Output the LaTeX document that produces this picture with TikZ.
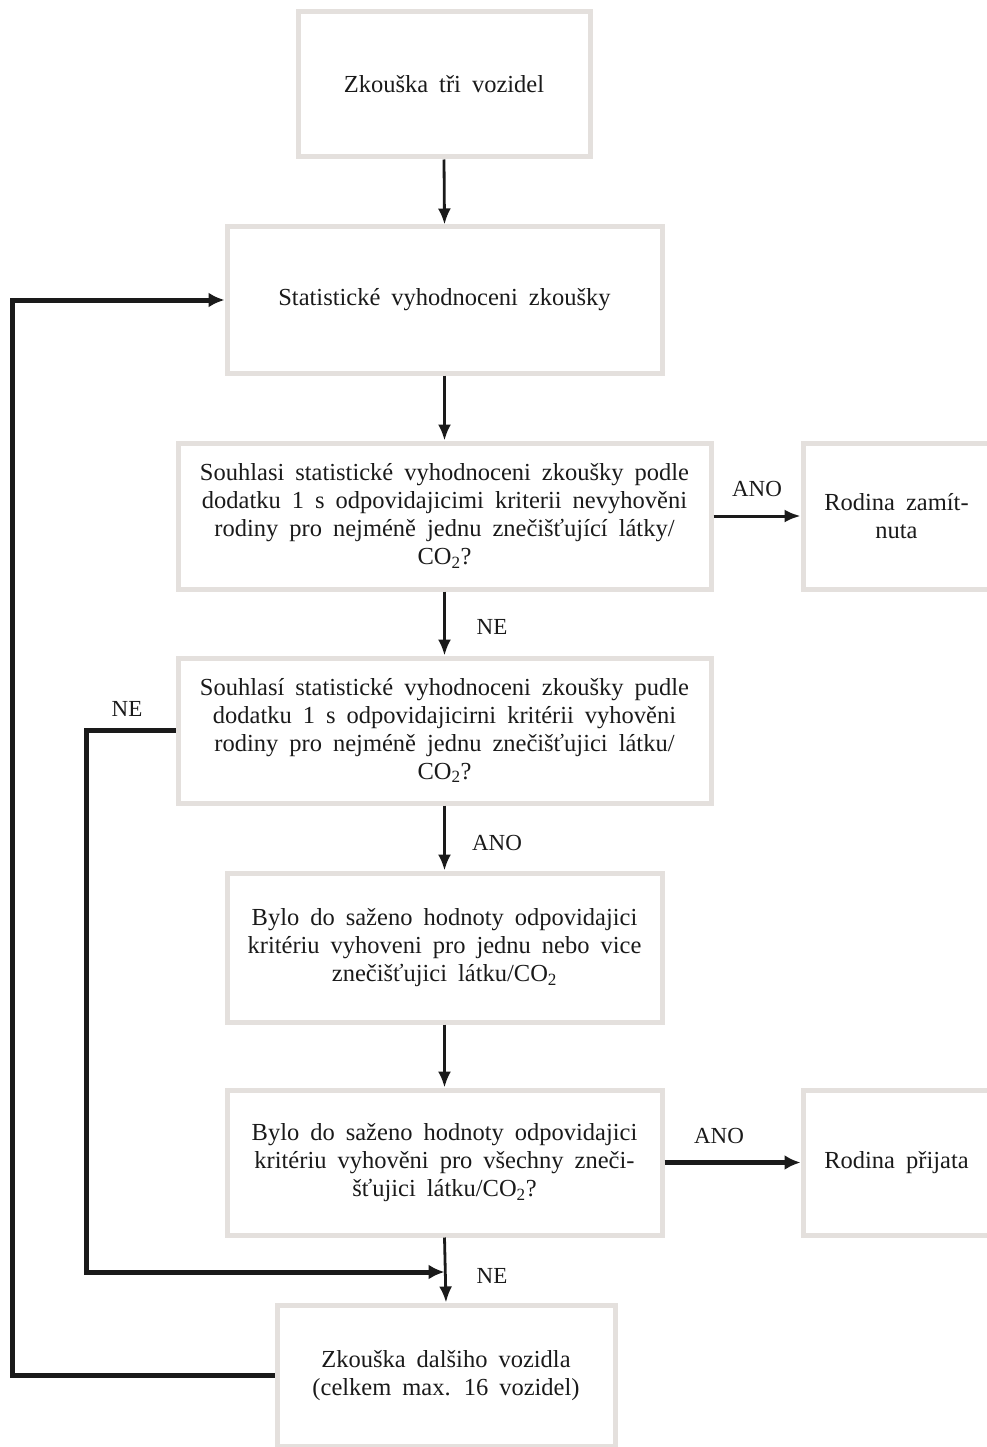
\documentclass[tikz,border=0pt]{standalone}
\usepackage{fontspec}
\setmainfont{Liberation Serif}
\usetikzlibrary{arrows.meta}
\definecolor{boxgray}{HTML}{E4E0DD}
\definecolor{ink}{HTML}{1A1A1A}
\newcommand{\wsp}{\spaceskip=11pt plus 2pt minus 1pt\relax}
\tikzset{
  box/.style={draw=boxgray, line width=5pt, rectangle, inner sep=0pt, align=center,
    text=ink, font=\fontsize{24.5}{28}\selectfont\wsp},
  lab/.style={text=ink, font=\fontsize{23}{28}\selectfont, inner sep=0pt},
  arr/.style={draw=ink, line width=2.8pt, -{Latex[length=16pt,width=13pt]}},
  thickarr/.style={draw=ink, line width=4.5pt, -{Latex[length=16pt,width=15pt]}},
  loop/.style={draw=ink, line width=5pt, line join=miter},
}
\begin{document}
\begin{tikzpicture}[x=1pt,y=-1pt]
\useasboundingbox (0,0) rectangle (986,1447);
\node[box, minimum width=292pt, minimum height=145pt] (b1) at (444,84.5) {Zkouška tři vozidel};
\node[box, minimum width=435pt, minimum height=146pt] (b2) at (444.5,300) {Statistické vyhodnoceni zkoušky};
\node[box, minimum width=533pt, minimum height=146pt] (b3) at (444.5,516) {Souhlasi statistické vyhodnoceni zkoušky podle\\dodatku 1 s odpovidajicimi kriterii nevyhověni\\rodiny pro nejméně jednu znečišťující látky/\\CO\textsubscript{2}?};
\node[box, minimum width=533pt, minimum height=145pt] (b4) at (444.5,730.5) {Souhlasí statistické vyhodnoceni zkoušky pudle\\dodatku 1 s odpovidajicirni kritérii vyhověni\\rodiny pro nejméně jednu znečišťujici látku/\\CO\textsubscript{2}?};
\node[box, minimum width=435pt, minimum height=149pt] (b5) at (444.5,947.5) {Bylo do saženo hodnoty odpovidajici\\kritériu vyhoveni pro jednu nebo vice\\znečišťujici látku/CO\textsubscript{2}};
\node[box, minimum width=435pt, minimum height=145pt] (b6) at (444.5,1162.5) {Bylo do saženo hodnoty odpovidajici\\kritériu vyhověni pro všechny zneči-\\šťujici látku/CO\textsubscript{2}?};
\node[box, minimum width=338pt, minimum height=141pt] (b7) at (446,1375.5) {Zkouška dalšiho vozidla\\(celkem max. 16 vozidel)};
\node[box, minimum width=187pt, minimum height=146pt] (rz) at (896.5,516) {Rodina zamít-\\nuta};
\node[box, minimum width=187pt, minimum height=145pt] (rp) at (896.5,1162.5) {Rodina přijata};
% connectors
\draw[arr] (b1.south) -- (b2.north);
\draw[arr] (b2.south) -- (b3.north);
\draw[arr] (b3.south) -- (b4.north);
\draw[arr] (b4.south) -- (b5.north);
\draw[arr] (b5.south) -- (b6.north);
\draw[arr] (b6.south) -- (b7.north);
\draw[arr, line width=3pt] (b3.east) -- (rz.west);
\draw[thickarr] (b6.east) -- (rp.west);
\coordinate (j) at (444.5,1272);
\coordinate (lx) at (86,0);
\coordinate (ox) at (12,0);
\draw[loop] (b4.west) -- (b4.west -| lx) -- (j -| lx) -- ([xshift=-14pt]j);
\draw[thickarr, line width=5pt] ([xshift=-16pt]j) -- (j);
\draw[loop] (b7.west) -- (b7.west -| ox) -- (b2.west -| ox) -- ([xshift=-16pt]b2.west);
\draw[thickarr, line width=5pt] ([xshift=-18pt]b2.west) -- (b2.west);
% labels
\node[lab] (l1) at (757,489) {ANO};
\node[lab] (l2) at (492,627) {NE};
\node[lab] (l3) at (127,709) {NE};
\node[lab] (l4) at (497,843) {ANO};
\node[lab] (l5) at (719,1136) {ANO};
\node[lab] (l6) at (492,1276) {NE};
\end{tikzpicture}
\end{document}
